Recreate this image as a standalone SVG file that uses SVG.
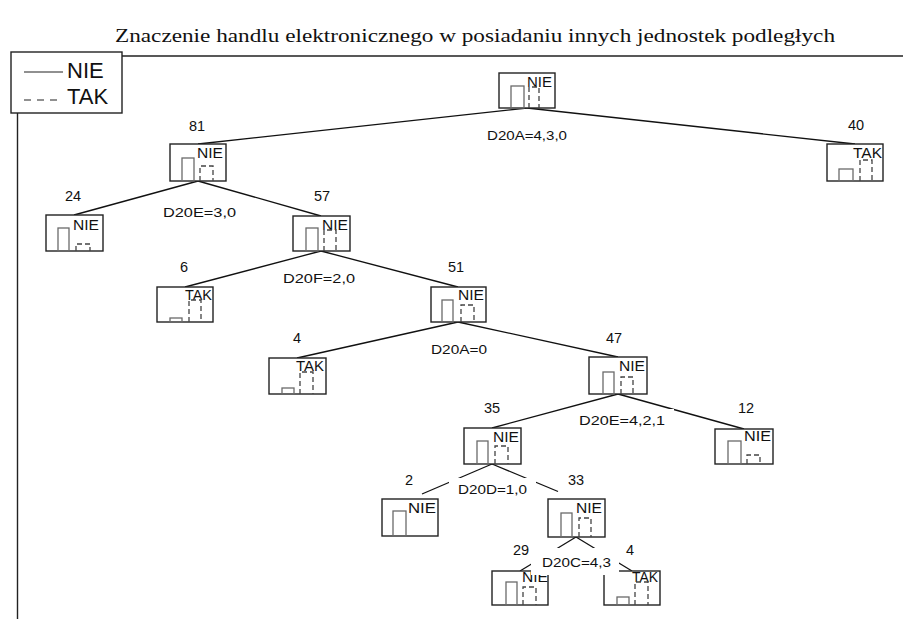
<svg xmlns="http://www.w3.org/2000/svg" width="903" height="619" viewBox="0 0 903 619">
<defs>
<style>
.bx{fill:#fff;stroke:#222;stroke-width:1.4}
.sb{fill:none;stroke:#6a6a6a;stroke-width:1.3}
.db{fill:none;stroke:#444;stroke-width:1.3;stroke-dasharray:5,3}
.nt{font-family:"Liberation Sans",Arial,sans-serif;font-size:15px;fill:#111}
.ct{font-family:"Liberation Sans",Arial,sans-serif;font-size:14.5px;fill:#111;text-anchor:middle}
.sl{font-family:"Liberation Sans",Arial,sans-serif;font-size:13.5px;fill:#111;text-anchor:middle}
.lbg{fill:#fff;stroke:none}
.cn{stroke:#111;stroke-width:1.3;fill:none}
</style>
</defs>
<rect width="903" height="619" fill="#fff"/>
<text x="115" y="42" font-family="'Liberation Serif','Times New Roman',serif" font-size="18" textLength="720" lengthAdjust="spacingAndGlyphs" fill="#111">Znaczenie handlu elektronicznego w posiadaniu innych jednostek podległych</text>
<path d="M17.5,619 V56 H903" fill="none" stroke="#222" stroke-width="1.4"/>
<g id="legend">
<rect x="11" y="52" width="111" height="61" class="bx"/>
<line x1="24" y1="72" x2="63" y2="72" stroke="#222" stroke-width="1.2"/>
<line x1="24" y1="100" x2="63" y2="100" stroke="#222" stroke-width="1.2" stroke-dasharray="7,6"/>
<text x="67" y="78" font-family="'Liberation Sans',Arial,sans-serif" font-size="22" fill="#111">NIE</text>
<text x="67" y="104" font-family="'Liberation Sans',Arial,sans-serif" font-size="22" fill="#111">TAK</text>
</g>
<g id="connectors">
<line class="cn" x1="527" y1="108" x2="198" y2="144"/>
<line class="cn" x1="527" y1="108" x2="855" y2="144"/>
<line class="cn" x1="198" y1="181" x2="74" y2="215"/>
<line class="cn" x1="198" y1="181" x2="321" y2="216"/>
<line class="cn" x1="321" y1="251" x2="185" y2="287"/>
<line class="cn" x1="321" y1="251" x2="458" y2="287"/>
<line class="cn" x1="458" y1="322" x2="297" y2="358"/>
<line class="cn" x1="458" y1="322" x2="618" y2="357"/>
<line class="cn" x1="618" y1="394" x2="492" y2="428"/>
<line class="cn" x1="618" y1="394" x2="744" y2="429"/>
<line class="cn" x1="492" y1="464" x2="422" y2="494"/>
<line class="cn" x1="492" y1="464" x2="558" y2="491.5"/>
<line class="cn" x1="576" y1="537" x2="520" y2="571"/>
<line class="cn" x1="576" y1="537" x2="632" y2="571"/>
</g>
<g id="counts">
<text class="ct" x="197" y="131">81</text>
<text class="ct" x="856" y="130">40</text>
<text class="ct" x="73" y="201">24</text>
<text class="ct" x="322" y="201">57</text>
<text class="ct" x="184" y="272">6</text>
<text class="ct" x="456" y="272">51</text>
<text class="ct" x="297" y="343">4</text>
<text class="ct" x="614" y="343">47</text>
<text class="ct" x="492" y="413">35</text>
<text class="ct" x="746" y="413">12</text>
<text class="ct" x="409" y="485">2</text>
<text class="ct" x="576" y="485">33</text>
<text class="ct" x="521" y="555">29</text>
<text class="ct" x="630" y="555">4</text>
</g>
<g id="n_root">
<rect class="bx" x="499" y="73" width="56" height="35"/>
<text class="nt" x="527" y="87" textLength="25" lengthAdjust="spacingAndGlyphs">NIE</text>
<rect class="sb" x="511" y="86" width="13" height="22"/>
<path class="db" d="M529,108 V87 H539 V108"/>
</g>
<g id="n81">
<rect class="bx" x="170" y="144" width="56" height="37"/>
<text class="nt" x="197" y="158" textLength="26" lengthAdjust="spacingAndGlyphs">NIE</text>
<rect class="sb" x="182" y="158" width="12" height="23"/>
<path class="db" d="M200,181 V166 H213 V181"/>
</g>
<g id="n40">
<rect class="bx" x="827" y="144" width="56" height="37"/>
<text class="nt" x="853" y="158" textLength="29" lengthAdjust="spacingAndGlyphs">TAK</text>
<rect class="sb" x="839" y="169" width="14" height="12"/>
<path class="db" d="M860,181 V160 H872 V181"/>
</g>
<g id="n24">
<rect class="bx" x="46" y="215" width="57" height="36"/>
<text class="nt" x="73" y="230" textLength="26" lengthAdjust="spacingAndGlyphs">NIE</text>
<rect class="sb" x="58" y="228" width="11" height="23"/>
<path class="db" d="M76,251 V244 H90 V251"/>
</g>
<g id="n57">
<rect class="bx" x="293" y="216" width="57" height="35"/>
<text class="nt" x="322" y="230" textLength="26" lengthAdjust="spacingAndGlyphs">NIE</text>
<rect class="sb" x="306" y="228" width="12" height="23"/>
<path class="db" d="M324,251 V230 H336 V251"/>
</g>
<g id="n6">
<rect class="bx" x="157" y="287" width="56" height="35"/>
<text class="nt" x="185" y="300" textLength="27" lengthAdjust="spacingAndGlyphs">TAK</text>
<rect class="sb" x="170" y="318" width="12" height="4"/>
<path class="db" d="M189,322 V300 H201 V322"/>
</g>
<g id="n51">
<rect class="bx" x="431" y="287" width="55" height="35"/>
<text class="nt" x="458" y="300" textLength="26" lengthAdjust="spacingAndGlyphs">NIE</text>
<rect class="sb" x="442" y="300" width="11" height="22"/>
<path class="db" d="M461,322 V305 H474 V322"/>
</g>
<g id="n4a">
<rect class="bx" x="269" y="358" width="57" height="36"/>
<text class="nt" x="296" y="371" textLength="28" lengthAdjust="spacingAndGlyphs">TAK</text>
<rect class="sb" x="282" y="388" width="12" height="6"/>
<path class="db" d="M300,394 V372 H313 V394"/>
</g>
<g id="n47">
<rect class="bx" x="589" y="357" width="58" height="37"/>
<text class="nt" x="619" y="371" textLength="26" lengthAdjust="spacingAndGlyphs">NIE</text>
<rect class="sb" x="603" y="372" width="11" height="22"/>
<path class="db" d="M621,394 V377 H633 V394"/>
</g>
<g id="n35">
<rect class="bx" x="464" y="428" width="57" height="36"/>
<text class="nt" x="493" y="442" textLength="26" lengthAdjust="spacingAndGlyphs">NIE</text>
<rect class="sb" x="477" y="441" width="11" height="23"/>
<path class="db" d="M495,464 V446 H508 V464"/>
</g>
<g id="n12">
<rect class="bx" x="715" y="429" width="58" height="35"/>
<text class="nt" x="744" y="441" textLength="27" lengthAdjust="spacingAndGlyphs">NIE</text>
<rect class="sb" x="728" y="441" width="13" height="23"/>
<path class="db" d="M747,464 V455 H760 V464"/>
</g>
<g id="n2">
<rect class="bx" x="382" y="499" width="56" height="37"/>
<text class="nt" x="408" y="513" textLength="28" lengthAdjust="spacingAndGlyphs">NIE</text>
<rect class="sb" x="393" y="511" width="13" height="25"/>
</g>
<g id="n33">
<rect class="bx" x="548" y="499" width="57" height="38"/>
<text class="nt" x="576" y="513" textLength="26" lengthAdjust="spacingAndGlyphs">NIE</text>
<rect class="sb" x="561" y="513" width="11" height="24"/>
<path class="db" d="M579,537 V518 H591 V537"/>
</g>
<g id="n29">
<rect class="bx" x="492" y="571" width="56" height="34"/>
<text class="nt" x="522" y="582" textLength="26" lengthAdjust="spacingAndGlyphs">NIE</text>
<rect class="sb" x="506" y="582" width="11" height="23"/>
<path class="db" d="M523,605 V587 H536 V605"/>
</g>
<g id="n4b">
<rect class="bx" x="604" y="571" width="56" height="34"/>
<text class="nt" x="632" y="582" textLength="26" lengthAdjust="spacingAndGlyphs">TAK</text>
<rect class="sb" x="617" y="597" width="12" height="8"/>
<path class="db" d="M635,605 V582 H648 V605"/>
</g>
<g id="split-labels">
<rect class="lbg" x="154" y="199" width="91" height="25"/>
<rect class="lbg" x="274" y="267" width="90" height="24"/>
<rect class="lbg" x="422" y="338" width="74" height="24"/>
<rect class="lbg" x="570" y="409" width="104" height="24"/>
<rect class="lbg" x="449" y="478" width="87" height="24"/>
<rect class="lbg" x="531" y="548" width="88" height="27"/>
<text class="sl" x="527" y="140" textLength="80" lengthAdjust="spacingAndGlyphs">D20A=4,3,0</text>
<text class="sl" x="199.5" y="217" textLength="73" lengthAdjust="spacingAndGlyphs">D20E=3,0</text>
<text class="sl" x="319" y="283" textLength="72" lengthAdjust="spacingAndGlyphs">D20F=2,0</text>
<text class="sl" x="459" y="354" textLength="56" lengthAdjust="spacingAndGlyphs">D20A=0</text>
<text class="sl" x="622" y="425" textLength="86" lengthAdjust="spacingAndGlyphs">D20E=4,2,1</text>
<text class="sl" x="492.5" y="494" textLength="69" lengthAdjust="spacingAndGlyphs">D20D=1,0</text>
<text class="sl" x="576.5" y="567" textLength="69" lengthAdjust="spacingAndGlyphs">D20C=4,3</text>
</g>
</svg>
